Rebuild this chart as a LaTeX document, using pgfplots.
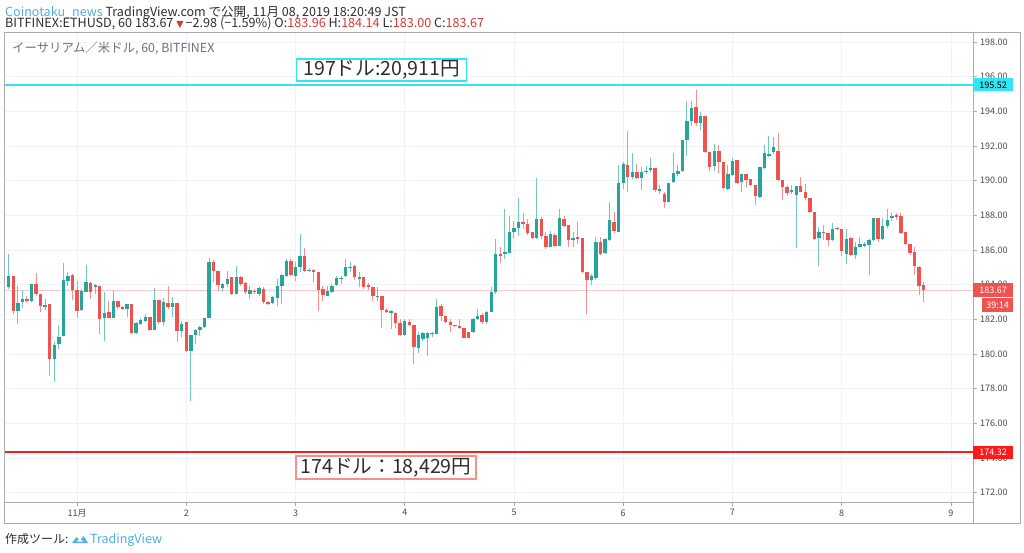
\documentclass[border=0pt]{standalone}
\usepackage{fontspec}
\setmainfont{Noto Sans CJK JP}
\newfontfamily\dv{DejaVu Sans}
\usepackage{pgfplots}
\pgfplotsset{compat=1.18}
\usepackage{pgfplotstable}
\definecolor{upc}{HTML}{26A69A}
\definecolor{dnc}{HTML}{EF5350}
\definecolor{upw}{HTML}{72C7BF}
\definecolor{dnw}{HTML}{F4918F}
\definecolor{gridc}{HTML}{EFF2F8}
\definecolor{framec}{HTML}{A8ABB3}
\definecolor{txt}{HTML}{2E2E2E}
\definecolor{axtxt}{HTML}{4A4A4A}
\definecolor{wmk}{HTML}{6F727C}
\definecolor{cyanl}{HTML}{33E4F2}
\definecolor{redl}{HTML}{FF1A1A}
\definecolor{boxred}{HTML}{F5908A}
\definecolor{tvblue}{HTML}{4FB0E6}
\definecolor{hred}{HTML}{D23A3A}

\pgfplotstableread{
h O H L C
-15 183.85 185.77 183.75 184.52
-13 182.50 183.90 181.73 182.94
-12 182.98 183.71 182.63 183.17
-10 183.04 184.04 182.98 184.04
-7 182.69 183.17 182.54 182.85
-5 179.71 180.67 178.36 180.52
-4 180.57 181.67 180.28 180.96
-3 181.06 185.25 181.06 184.25
-2 184.23 184.71 183.94 184.52
1 182.56 183.75 182.50 183.65
2 183.60 185.14 183.60 184.17
4 183.85 184.04 183.46 184.00
6 182.09 183.56 180.77 182.36
8 182.09 183.65 182.09 183.08
11 182.60 182.88 182.11 182.86
13 181.21 181.83 181.15 181.79
14 181.73 182.06 181.67 181.98
15 181.92 182.29 181.86 182.15
17 181.40 183.79 181.40 183.12
19 181.83 183.21 181.63 183.02
21 182.69 183.27 182.11 182.94
23 181.34 181.92 180.96 181.73
25 180.19 181.11 177.30 181.11
26 181.11 181.44 180.57 181.40
27 181.40 181.60 181.02 181.54
28 181.54 182.07 181.48 182.07
29 182.07 185.52 182.07 185.29
32 183.79 184.10 183.56 184.04
33 184.04 184.81 183.85 184.33
35 183.46 185.06 183.46 184.42
38 183.46 183.94 183.17 183.71
40 183.46 183.94 183.36 183.80
43 182.94 183.36 182.90 183.30
44 183.26 184.32 182.75 183.94
45 183.94 184.61 182.88 184.55
46 184.52 185.48 184.42 185.38
48 184.52 185.29 184.23 185.00
49 185.00 186.92 184.71 185.67
51 184.77 184.98 184.71 184.86
55 183.36 183.94 183.32 183.65
56 183.59 184.03 183.52 183.94
57 183.98 184.48 183.94 184.38
58 184.32 184.52 184.03 184.40
59 184.48 185.48 184.42 185.00
60 184.96 185.33 184.75 185.04
62 184.32 184.71 183.84 184.42
66 183.31 183.88 183.08 183.37
69 182.36 182.55 181.44 182.50
72 181.09 182.02 181.05 181.92
75 180.32 181.25 180.05 181.09
76 180.86 181.25 180.77 181.19
77 180.90 181.30 179.90 181.20
78 181.15 181.30 181.00 181.21
79 181.15 183.17 181.15 182.69
87 181.25 182.10 181.20 182.02
88 182.02 182.59 181.95 182.21
90 181.82 182.50 181.75 182.44
91 182.44 183.85 182.40 183.56
92 183.56 186.64 183.46 185.77
94 185.77 188.37 185.48 185.87
95 185.83 187.95 185.83 187.02
96 187.02 187.70 186.68 187.27
97 187.25 188.99 186.83 187.64
101 186.68 190.14 186.64 187.79
104 186.16 187.12 186.16 186.93
106 186.25 188.37 186.25 187.83
109 186.60 187.02 186.16 186.68
113 184.27 184.62 183.98 184.52
114 184.40 186.73 184.30 186.45
116 185.83 186.70 185.75 186.64
117 186.60 188.76 186.54 187.75
119 187.06 190.90 187.06 189.85
120 189.85 191.07 189.53 190.97
122 190.20 191.61 190.10 190.53
124 190.14 190.78 189.49 190.49
125 190.51 190.87 190.39 190.58
126 190.60 191.30 190.53 190.72
128 189.43 189.76 189.24 189.53
130 188.79 189.87 188.76 189.87
131 189.91 191.61 189.87 190.43
132 190.39 190.91 190.30 190.57
133 190.57 192.32 190.53 192.32
134 192.32 194.57 191.41 193.47
135 193.43 194.57 193.18 194.20
137 193.32 193.95 192.90 193.72
140 190.83 192.12 190.58 191.74
143 189.53 190.88 189.49 190.39
144 190.34 191.30 190.30 191.11
146 189.92 190.39 189.37 190.36
150 189.05 190.78 188.99 190.78
151 190.72 192.07 190.68 191.61
152 191.40 192.57 191.36 191.53
153 191.65 192.51 191.55 191.93
157 189.37 189.76 189.24 189.49
158 189.18 189.72 186.10 189.72
163 186.68 187.31 185.10 187.06
166 186.60 187.56 186.54 187.22
169 185.78 187.22 185.20 186.64
171 185.72 186.45 185.49 186.16
172 186.20 186.74 186.16 186.35
173 186.22 186.45 186.16 186.35
174 186.30 186.64 184.56 186.60
175 186.60 187.84 186.54 187.84
177 186.64 187.84 186.60 187.37
178 187.37 188.34 187.26 187.76
179 187.84 188.14 187.70 187.99
}\upt

\pgfplotstableread{
h O H L C
-14 184.52 184.52 182.31 182.50
-11 183.17 183.33 182.94 183.04
-9 184.04 184.66 183.37 183.46
-8 183.46 183.46 182.44 182.79
-6 182.88 182.88 178.74 179.71
-1 184.58 184.62 183.14 183.71
0 183.71 184.23 182.06 182.46
3 184.10 184.17 183.17 183.60
5 183.90 183.90 181.15 182.02
7 182.44 183.08 182.06 182.09
9 183.08 183.08 182.60 182.69
10 182.73 182.79 182.54 182.60
12 182.88 182.88 181.15 181.21
16 182.15 182.15 181.34 181.40
18 183.12 183.12 181.73 181.83
20 182.94 183.94 182.60 182.69
22 182.94 182.94 180.67 181.34
24 181.83 181.83 180.10 180.19
30 185.29 185.45 184.13 184.81
31 184.81 184.81 183.65 183.98
34 184.42 184.42 183.40 183.46
36 184.42 184.48 183.94 184.04
37 184.10 184.13 183.46 183.56
39 183.65 183.78 183.46 183.57
41 183.75 183.84 182.88 183.01
42 183.01 183.07 182.82 182.86
47 185.38 185.48 184.52 184.55
50 185.67 186.10 184.71 184.81
52 184.86 184.90 184.17 184.71
53 184.71 184.71 182.50 183.71
54 183.75 183.94 183.07 183.40
61 185.10 185.13 184.29 184.42
63 184.42 184.42 183.78 183.84
64 183.98 184.10 183.70 183.85
65 183.88 183.88 183.08 183.33
67 183.37 183.37 181.50 182.54
68 182.54 182.63 182.36 182.44
70 182.36 182.40 181.48 181.78
71 181.78 182.02 181.05 181.09
73 181.86 182.02 181.63 181.69
74 181.69 181.69 179.41 180.38
80 182.79 182.88 181.92 182.21
81 182.21 182.21 181.80 181.82
82 181.86 182.02 181.25 181.67
83 181.67 181.70 181.55 181.59
84 181.63 182.02 181.44 181.48
85 181.48 181.48 180.90 180.94
86 181.25 181.30 180.90 180.94
89 182.25 182.35 181.75 181.82
93 185.77 186.16 185.25 185.67
98 187.60 188.14 187.21 187.50
99 187.50 187.79 186.87 186.98
100 187.02 187.02 186.64 186.68
102 187.79 187.89 186.64 186.83
103 186.83 187.02 186.06 186.16
105 186.87 187.00 186.20 186.25
107 187.79 187.99 187.31 187.41
108 187.45 187.45 186.16 186.60
110 186.73 187.64 186.35 186.64
111 186.68 186.68 184.70 184.75
112 184.75 184.75 182.30 184.27
115 186.45 186.73 185.70 185.80
118 187.64 188.22 186.98 187.12
121 190.91 192.84 189.33 190.20
123 190.53 190.97 190.10 190.14
127 190.72 190.72 189.33 189.47
129 189.24 189.33 188.41 188.79
136 194.24 195.26 193.18 193.32
138 193.72 193.72 191.61 191.64
139 191.68 191.68 190.58 190.78
141 191.74 192.07 190.45 191.07
142 191.07 191.07 189.53 189.56
145 191.17 191.22 189.82 189.88
147 190.36 190.39 189.62 190.03
148 190.07 190.07 189.68 189.76
149 189.76 189.76 188.57 189.11
154 191.74 192.76 190.01 190.05
155 190.05 190.05 188.91 189.62
156 189.62 189.76 189.11 189.30
159 189.72 190.20 189.33 189.37
160 189.33 189.82 188.91 188.99
161 188.99 188.99 188.14 188.18
162 188.22 188.22 186.60 186.64
164 187.06 187.45 186.60 186.99
165 186.99 186.99 186.22 186.60
167 187.27 187.31 187.16 187.20
168 187.22 187.22 185.68 185.97
170 186.68 186.74 185.68 185.72
176 187.84 187.84 186.45 186.64
180 188.03 188.14 187.76 187.93
181 187.95 188.14 186.93 186.97
182 187.03 187.03 186.30 186.35
183 186.35 186.35 185.72 185.83
184 185.91 186.16 184.56 185.10
185 185.04 185.10 183.41 183.91
186 183.96 184.14 183.00 183.67
}\dnt

\begin{document}
\begin{tikzpicture}[x=1pt,y=1pt]
\useasboundingbox (0,0) rectangle (1024,552);
\fill[white] (0,0) rectangle (1024,552);

% header
\node[anchor=base west, inner sep=0pt, text=txt, font=\fontsize{12.55}{14}\selectfont] at (5,535.5)
  {{\color{tvblue}Coinotaku\_news} TradingView.com で公開, 11月 08, 2019 18:20:49 JST};
\node[anchor=base west, inner sep=0pt, text=txt, font=\fontsize{12.6}{14}\selectfont] at (5,524.5)
  {BITFINEX:ETHUSD, 60 183.67 {\color{hred}\dv\fontsize{9.5}{10}\selectfont ▼}\,−2.98 (−1.59\%) O:{\color{hred}183.96} H:{\color{hred}184.14} L:{\color{hred}183.00} C:{\color{hred}183.67}};

\begin{axis}[
  at={(5pt,49.5pt)}, anchor=south west,
  scale only axis, width=968pt, height=470pt,
  xmin=-15.82, xmax=196.84, ymin=171.435, ymax=198.55,
  axis line style={framec, line width=1pt},
  xtick={0,24,...,192}, xticklabels={11月,2,3,4,5,6,7,8,9},
  ytick={172,174,...,198},
  xtick pos=bottom, ytick pos=right, yticklabel pos=right,
  tick align=outside, major tick length=3.5pt,
  tick style={framec, line width=0.8pt},
  /pgf/number format/assume math mode=true,
  yticklabel style={font=\fontsize{9}{10}\selectfont, text=axtxt,
     /pgf/number format/.cd, fixed, fixed zerofill, precision=2},
  xticklabel style={font=\fontsize{9}{10}\selectfont, text=axtxt},
  grid=major, grid style={gridc, line width=0.8pt},
  clip=true,
  every axis plot/.append style={mark=none},
]
\addplot[dnc!30, line width=0.8pt, forget plot] coordinates {(-20,183.67) (200,183.67)};
\addplot[cyanl, line width=1.2pt, forget plot] coordinates {(-20,195.52) (200,195.52)};
\addplot[redl, line width=2pt, forget plot] coordinates {(-20,174.32) (200,174.32)};

\addplot[draw=none, mark=none, forget plot,
  error bars/.cd, y dir=plus, y explicit, error mark=none,
  error bar style={draw=upw, line width=1pt}]
  table[x=h, y=L, y error plus expr=\thisrow{H}-\thisrow{L}] {\upt};
\addplot[draw=none, mark=none, forget plot,
  error bars/.cd, y dir=plus, y explicit, error mark=none,
  error bar style={draw=dnw, line width=1pt}]
  table[x=h, y=L, y error plus expr=\thisrow{H}-\thisrow{L}] {\dnt};
\addplot[draw=none, mark=none, forget plot,
  error bars/.cd, y dir=plus, y explicit, error mark=none,
  error bar style={draw=upc, line width=3.4pt}]
  table[x=h, y=O, y error plus expr=\thisrow{C}-\thisrow{O}] {\upt};
\addplot[draw=none, mark=none, forget plot,
  error bars/.cd, y dir=plus, y explicit, error mark=none,
  error bar style={draw=dnc, line width=3.4pt}]
  table[x=h, y=C, y error plus expr=\thisrow{O}-\thisrow{C}] {\dnt};
\end{axis}

% outer frame
\draw[framec, line width=1pt] (4.5,28.5) rectangle (1020.5,519.5);
\draw[framec, line width=1pt] (973,28.5) -- (973,49.5);

% watermark
\node[anchor=base west, inner sep=0pt, text=wmk, font=\fontsize{12.4}{14}\selectfont] at (12,499.5)
  {イーサリアム／米ドル, 60, BITFINEX};

% annotation boxes
\node[draw=cyanl, line width=1.2pt, fill=white, minimum width=170pt, minimum height=22pt, inner sep=0pt,
  text=txt, font=\fontsize{19.6}{21}\selectfont] at (381.7,482) {197ドル:20,911円};
\node[draw=boxred, line width=1.2pt, fill=white, minimum width=180pt, minimum height=23pt, inner sep=0pt,
  text=txt, font=\fontsize{19.6}{21}\selectfont] at (386,84.5) {174ドル：18,429円};

% price tags
\node[fill=cyanl, minimum width=40pt, minimum height=13pt, inner sep=0pt, anchor=west,
  text=black, font=\fontsize{9}{10}\selectfont] at (973,467) {195.52};
\node[fill=dnc, minimum width=40pt, minimum height=14pt, inner sep=0pt, anchor=west,
  text=white, font=\fontsize{9}{10}\selectfont] at (973,262) {183.67};
\node[fill=dnc, minimum width=31pt, minimum height=14pt, inner sep=0pt, anchor=west,
  text=white, font=\fontsize{9}{10}\selectfont] at (982,247) {39:14};
\node[fill=redl, minimum width=40pt, minimum height=13pt, inner sep=0pt, anchor=west,
  text=white, font=\fontsize{9}{10}\selectfont] at (973,100) {174.32};

% footer
\node[anchor=base west, inner sep=0pt, text=txt, font=\fontsize{12}{14}\selectfont] at (5,8.5) {作成ツール:};
\fill[tvblue] (72,9) -- (76.5,15) -- (80,11.5) -- (83.5,16) -- (88,9) -- cycle;
\fill[white] (76.5,10.5) -- (80,13) -- (83.5,10.5) -- cycle;
\node[anchor=base west, inner sep=0pt, text=tvblue, font=\fontsize{12.5}{14}\selectfont] at (90,8.5) {TradingView};
\end{tikzpicture}
\end{document}
